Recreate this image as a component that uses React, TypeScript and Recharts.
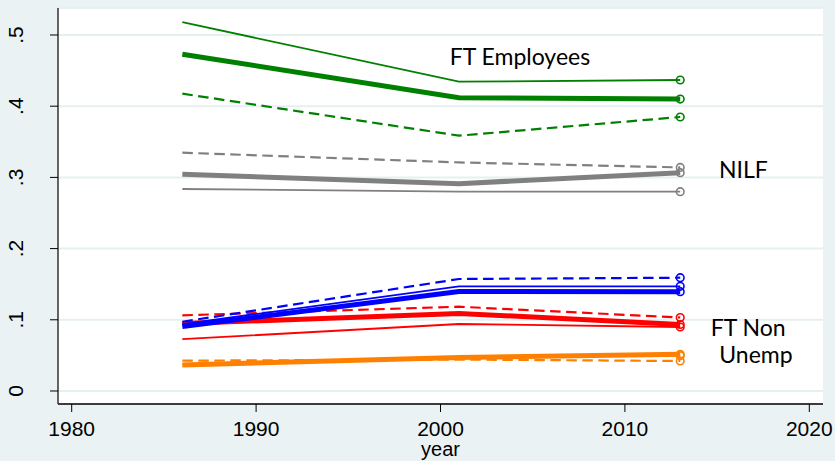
import React from 'react';
import { LineChart, Line, XAxis, YAxis, CartesianGrid, ReferenceDot } from 'recharts';

// Survey years
const years = [1986, 2001, 2013];

// FT Employees (green)
const ftEmpThin = [0.518, 0.4344, 0.4368];
const ftEmpThick = [0.473, 0.412, 0.41];
const ftEmpDash = [0.4176, 0.3586, 0.3848];

// NILF (gray)
const nilfThin = [0.2837, 0.28, 0.28];
const nilfThick = [0.3044, 0.2912, 0.3066];
const nilfDash = [0.3347, 0.321, 0.314];

// FT Non-employees (red)
const ftNonThin = [0.0728, 0.0941, 0.0899];
const ftNonThick = [0.0948, 0.109, 0.0934];
const ftNonDash = [0.1063, 0.1184, 0.1032];

// Blue group
const blueThin = [0.094, 0.147, 0.147];
const blueThick = [0.0906, 0.1397, 0.1395];
const blueDash = [0.0973, 0.1573, 0.1591];

// Unemployed (orange)
const unempThin = [0.038, 0.0478, 0.0496];
const unempThick = [0.0365, 0.047, 0.0515];
const unempDash = [0.0426, 0.0442, 0.0421];

const xTicks = [1980, 1990, 2000, 2010, 2020];
const yTicks = [0, 0.1, 0.2, 0.3, 0.4, 0.5];
const yTickLabels = ['0', '.1', '.2', '.3', '.4', '.5'];

const labelTexts = ['FT Employees', 'NILF', 'FT Non', 'Unemp'];
const labelYears = [2000.5, 2015.1, 2014.66, 2015.12];
const labelValues = [0.458, 0.299, 0.0772, 0.0389];

const GREEN = '#008000';
const GRAY = '#808080';
const RED = '#ff0000';
const BLUE = '#0000ff';
const ORANGE = '#ff8000';

type Kind = 'thin' | 'thick' | 'dash';
const seriesDefs: { key: string; values: number[]; color: string; kind: Kind }[] = [
  { key: 'ftEmpThin', values: ftEmpThin, color: GREEN, kind: 'thin' },
  { key: 'ftEmpThick', values: ftEmpThick, color: GREEN, kind: 'thick' },
  { key: 'ftEmpDash', values: ftEmpDash, color: GREEN, kind: 'dash' },
  { key: 'nilfThin', values: nilfThin, color: GRAY, kind: 'thin' },
  { key: 'nilfThick', values: nilfThick, color: GRAY, kind: 'thick' },
  { key: 'nilfDash', values: nilfDash, color: GRAY, kind: 'dash' },
  { key: 'ftNonThin', values: ftNonThin, color: RED, kind: 'thin' },
  { key: 'ftNonThick', values: ftNonThick, color: RED, kind: 'thick' },
  { key: 'ftNonDash', values: ftNonDash, color: RED, kind: 'dash' },
  { key: 'blueThin', values: blueThin, color: BLUE, kind: 'thin' },
  { key: 'blueThick', values: blueThick, color: BLUE, kind: 'thick' },
  { key: 'blueDash', values: blueDash, color: BLUE, kind: 'dash' },
  { key: 'unempThin', values: unempThin, color: ORANGE, kind: 'thin' },
  { key: 'unempThick', values: unempThick, color: ORANGE, kind: 'thick' },
  { key: 'unempDash', values: unempDash, color: ORANGE, kind: 'dash' },
];

const data = years.map((year, i) => {
  const row: Record<string, number> = { year };
  seriesDefs.forEach((s) => {
    row[s.key] = s.values[i];
  });
  return row;
});

const TICK_FONT = '"Liberation Sans", Arial, sans-serif';
const LABEL_FONT = 'Lato, "Noto Sans", sans-serif';

const YTick = (props: any) => {
  const { x, y, payload } = props;
  const idx = yTicks.findIndex((t) => Math.abs(t - payload.value) < 1e-9);
  const label = idx >= 0 ? yTickLabels[idx] : String(payload.value);
  const tx = x - 25;
  return (
    <text
      x={tx}
      y={y}
      transform={`rotate(-90, ${tx}, ${y})`}
      textAnchor="middle"
      fontSize={21}
      fontFamily={TICK_FONT}
      fill="#000"
    >
      {label}
    </text>
  );
};

const XTick = (props: any) => {
  const { x, y, payload } = props;
  return (
    <text x={x} y={y + 22} textAnchor="middle" fontSize={21} fontFamily={TICK_FONT} fill="#000">
      {payload.value}
    </text>
  );
};

const makeDot = (color: string, lastIndex: number) => (props: any) => {
  const { cx, cy, index } = props;
  if (index !== lastIndex) return <g key={`d-${index}`} />;
  return (
    <circle key={`d-${index}`} cx={cx} cy={cy} r={3.8} fill="none" stroke={color} strokeWidth={1.6} />
  );
};

export default function App() {
  return (
    <div style={{ position: 'absolute', left: 0, top: 0, width: 835, height: 461, background: '#eaf2f3' }}>
      <LineChart
        width={835}
        height={461}
        data={data}
        margin={{ top: 8, right: 12, bottom: 0, left: 0 }}
      >
        <CartesianGrid vertical={false} stroke="#e6eff1" strokeWidth={2} fill="#ffffff" />
        <XAxis
          dataKey="year"
          type="number"
          domain={[1979.257, 2020.743]}
          allowDataOverflow
          ticks={xTicks}
          height={57}
          tickSize={8}
          tickLine={{ stroke: '#000', strokeWidth: 1 }}
          axisLine={{ stroke: '#000', strokeWidth: 1.5 }}
          tick={<XTick />}
          label={({ viewBox }: any) => (
            <text
              x={viewBox.x + viewBox.width / 2}
              y={viewBox.y + 52}
              textAnchor="middle"
              fontSize={20}
              fontFamily={TICK_FONT}
              fill="#000"
            >
              year
            </text>
          )}
        />
        <YAxis
          type="number"
          domain={[-0.01826, 0.5379]}
          allowDataOverflow
          ticks={yTicks}
          width={58}
          tickSize={8}
          tickLine={{ stroke: '#000', strokeWidth: 1 }}
          axisLine={{ stroke: '#333', strokeWidth: 1.5 }}
          tick={<YTick />}
        />
        {seriesDefs.map((s) => (
          <Line
            key={s.key}
            dataKey={s.key}
            type="linear"
            stroke={s.color}
            strokeWidth={s.kind === 'thick' ? 5 : s.kind === 'thin' ? 1.8 : 2.2}
            strokeDasharray={s.kind === 'dash' ? '10.5 5.5' : undefined}
            dot={makeDot(s.color, years.length - 1)}
            activeDot={false}
            isAnimationActive={false}
          />
        ))}
        {labelTexts.map((t, i) => (
          <ReferenceDot
            key={t}
            x={labelYears[i]}
            y={labelValues[i]}
            r={1}
            fill="none"
            stroke="none"
            ifOverflow="visible"
            label={({ viewBox }: any) => (
              <text
                x={viewBox.x + 1}
                y={viewBox.y + 1}
                textAnchor="start"
                fontSize={23}
                fontFamily={LABEL_FONT}
                fill="#000"
              >
                {t}
              </text>
            )}
          />
        ))}
      </LineChart>
    </div>
  );
}
